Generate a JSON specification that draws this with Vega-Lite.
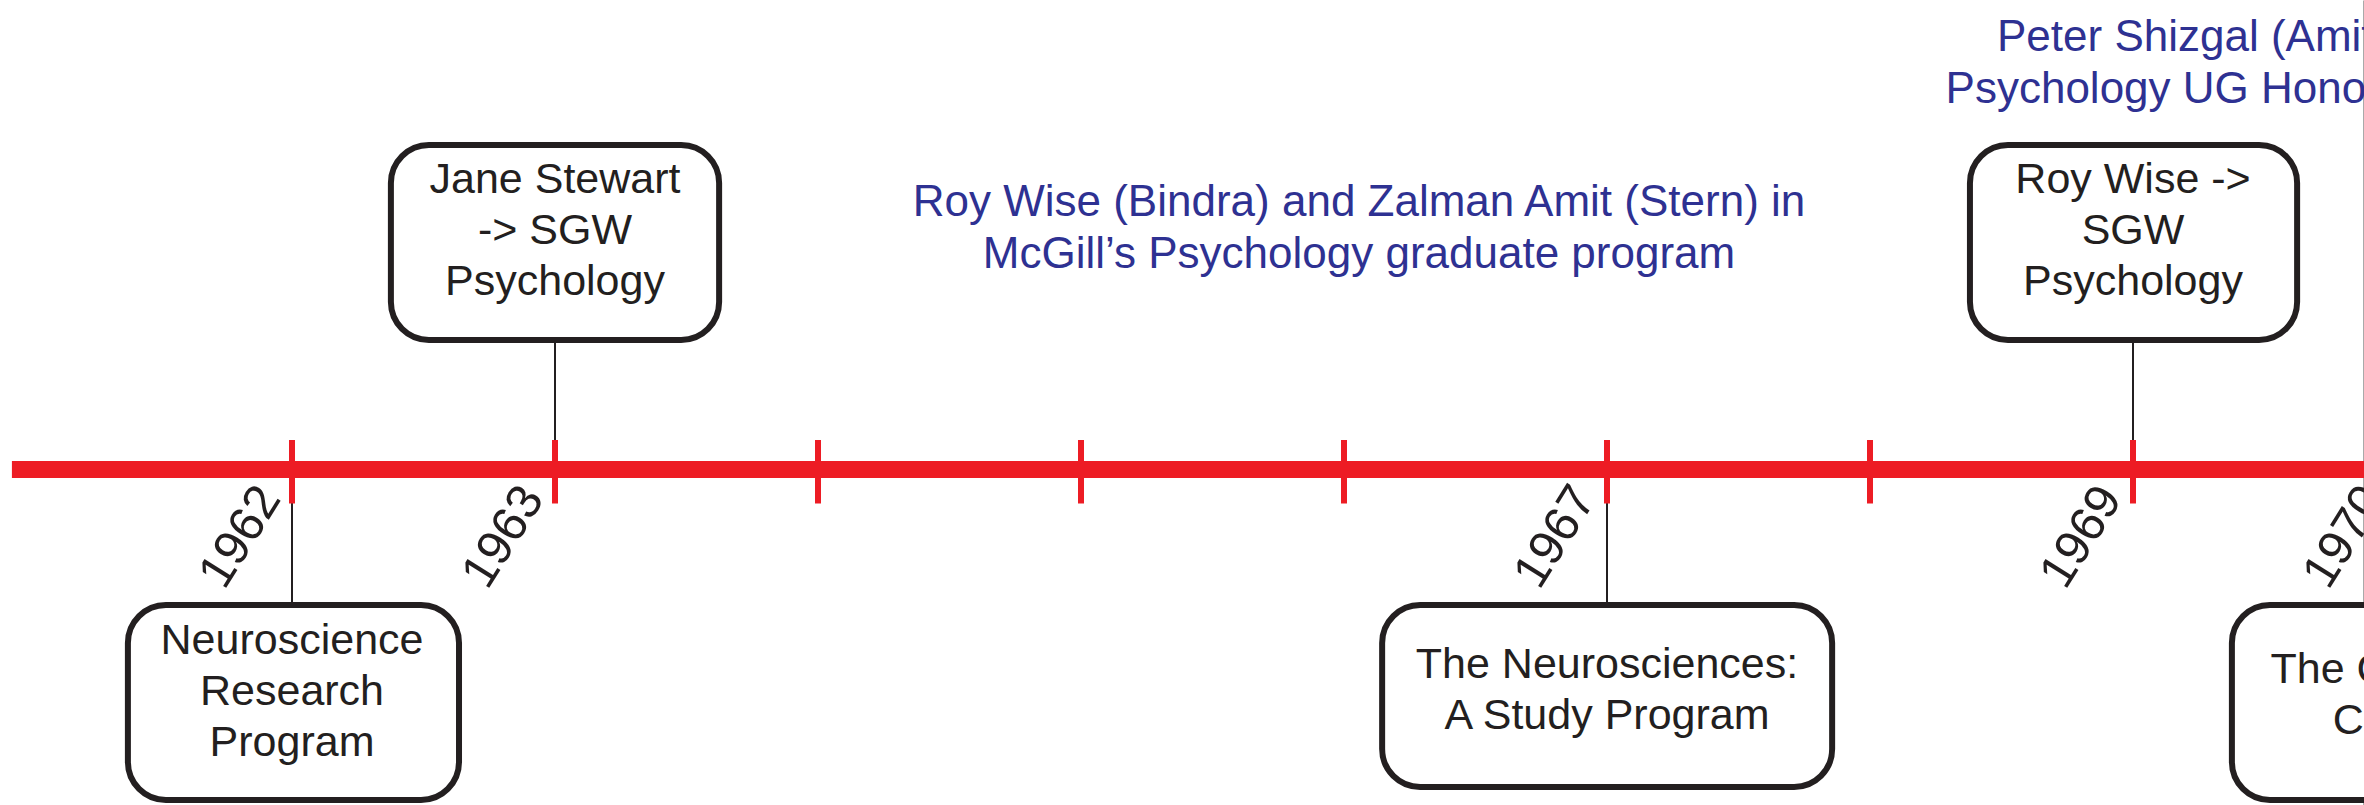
{
  "$schema": "https://vega.github.io/schema/vega-lite/v6.json",
  "width": 2364,
  "height": 805,
  "autosize": {"type": "fit", "contains": "padding"},
  "padding": 0,
  "background": "white",
  "config": {"view": {"stroke": null}, "font": "Liberation Sans"},
  "datasets": {
    "timeline": [{"from": 1960.935, "to": 1971, "level": 0}],
    "years": [
      {"year": 1962, "top": 0.295, "bottom": -0.34},
      {"year": 1963, "top": 0.295, "bottom": -0.34},
      {"year": 1964, "top": 0.295, "bottom": -0.34},
      {"year": 1965, "top": 0.295, "bottom": -0.34},
      {"year": 1966, "top": 0.295, "bottom": -0.34},
      {"year": 1967, "top": 0.295, "bottom": -0.34},
      {"year": 1968, "top": 0.295, "bottom": -0.34},
      {"year": 1969, "top": 0.295, "bottom": -0.34},
      {"year": 1970, "top": 0.295, "bottom": -0.34}
    ],
    "events": [
      {"year": 1962, "label": "Neuroscience\nResearch\nProgram", "from": 1961.376, "to": 1962.635, "base": 0, "inner": -1.355, "outer": -3.305, "ty": -1.71},
      {"year": 1963, "label": "Jane Stewart\n-> SGW\nPsychology", "from": 1962.376, "to": 1963.624, "base": 0, "inner": 1.295, "outer": 3.245, "ty": 2.9},
      {"year": 1967, "label": "The Neurosciences:\nA Study Program", "from": 1966.145, "to": 1967.856, "base": 0, "inner": -1.355, "outer": -3.175, "ty": -1.95},
      {"year": 1969, "label": "Roy Wise ->\nSGW\nPsychology", "from": 1968.380, "to": 1969.624, "base": 0, "inner": 1.295, "outer": 3.245, "ty": 2.9},
      {"year": 1970, "label": "The Cerebral\nCortex", "from": 1969.376, "to": 1970.624, "base": 0, "inner": -1.355, "outer": -3.305, "ty": -2.0}
    ],
    "notes": [
      {"at": 1966.057, "level": 2.67, "label": "Roy Wise (Bindra) and Zalman Amit (Stern) in\nMcGill’s Psychology graduate program"},
      {"at": 1969.538, "level": 4.32, "label": "Peter Shizgal (Amit) in SGW\nPsychology UG Honours program"}
    ]
  },
  "layer": [
    {
      "data": {"name": "events"},
      "mark": {"type": "rule", "color": "#231f20", "strokeWidth": 2, "clip": true},
      "encoding": {
        "x": {"field": "year", "type": "quantitative", "scale": {"domain": [1960.8897, 1969.8783], "nice": false, "zero": false}, "axis": null},
        "y": {"field": "base", "type": "quantitative", "scale": {"domain": [-3.355, 4.695], "nice": false, "zero": false},
              "axis": {"orient": "right", "domain": true, "domainColor": "#555555", "domainWidth": 2, "ticks": false, "labels": false, "grid": false, "title": null}},
        "y2": {"field": "inner"}
      }
    },
    {
      "data": {"name": "timeline"},
      "mark": {"type": "rule", "color": "#ed1c24", "strokeWidth": 17, "strokeCap": "butt", "clip": true},
      "encoding": {
        "x": {"field": "from", "type": "quantitative"},
        "x2": {"field": "to"},
        "y": {"field": "level", "type": "quantitative"}
      }
    },
    {
      "data": {"name": "years"},
      "mark": {"type": "rule", "color": "#ed1c24", "strokeWidth": 6, "strokeCap": "butt", "clip": true},
      "encoding": {
        "x": {"field": "year", "type": "quantitative"},
        "y": {"field": "top", "type": "quantitative"},
        "y2": {"field": "bottom"}
      }
    },
    {
      "data": {"name": "events"},
      "mark": {"type": "rect", "fill": "white", "stroke": "#231f20", "strokeWidth": 6, "cornerRadius": 38, "clip": true},
      "encoding": {
        "x": {"field": "from", "type": "quantitative"},
        "x2": {"field": "to"},
        "y": {"field": "inner", "type": "quantitative"},
        "y2": {"field": "outer"}
      }
    },
    {
      "data": {"name": "events"},
      "mark": {"type": "text", "fontSize": 43, "lineHeight": 51, "lineBreak": "\n", "align": "center", "baseline": "middle", "color": "#231f20", "clip": true},
      "encoding": {
        "x": {"field": "year", "type": "quantitative"},
        "y": {"field": "ty", "type": "quantitative"},
        "text": {"field": "label", "type": "nominal"}
      }
    },
    {
      "data": {"name": "events"},
      "mark": {"type": "text", "fontSize": 49, "angle": 302, "dx": -30, "dy": -8, "align": "right", "baseline": "middle", "color": "#231f20", "clip": true},
      "encoding": {
        "x": {"field": "year", "type": "quantitative"},
        "y": {"field": "base", "type": "quantitative"},
        "text": {"field": "year", "type": "nominal"}
      }
    },
    {
      "data": {"name": "notes"},
      "mark": {"type": "text", "fontSize": 44, "lineHeight": 52, "lineBreak": "\n", "align": "center", "baseline": "middle", "color": "#2e3192", "clip": true},
      "encoding": {
        "x": {"field": "at", "type": "quantitative"},
        "y": {"field": "level", "type": "quantitative"},
        "text": {"field": "label", "type": "nominal"}
      }
    }
  ]
}
